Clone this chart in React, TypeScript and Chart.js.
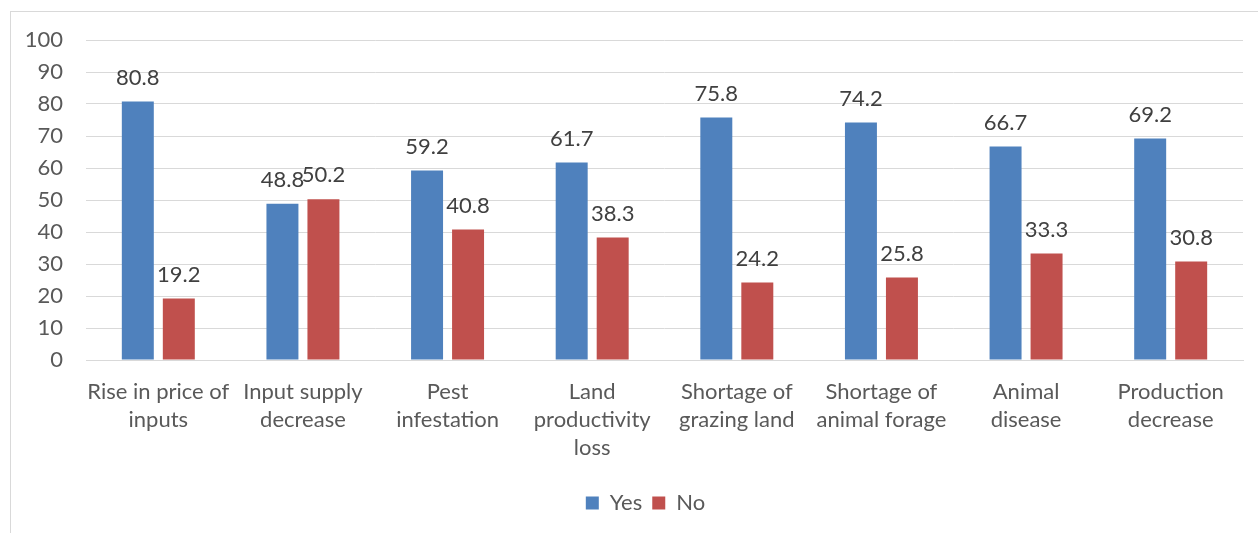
import React, { useEffect, useRef } from "react";
import { Chart, registerables } from "chart.js";

Chart.register(...registerables);

const categories: string[][] = [
  ["Rise in price of", "inputs"],
  ["Input supply", "decrease"],
  ["Pest", "infestation"],
  ["Land", "productivity", "loss"],
  ["Shortage of", "grazing land"],
  ["Shortage of", "animal forage"],
  ["Animal", "disease"],
  ["Production", "decrease"],
];
const yesValues = [80.8, 48.8, 59.2, 61.7, 75.8, 74.2, 66.7, 69.2];
const noValues = [19.2, 50.2, 40.8, 38.3, 24.2, 25.8, 33.3, 30.8];
const seriesNames = ["Yes", "No"];
const yMin = 0;
const yMax = 100;
const yStep = 10;

const FONT = "Lato, 'Open Sans', sans-serif";
const FS = 22;
const BLUE = "#4F81BD";
const RED = "#C0504D";

const valueLabels = {
  id: "valueLabels",
  afterDatasetsDraw(chart: any) {
    const ctx = chart.ctx;
    ctx.save();
    ctx.font = `${FS}px ${FONT}`;
    ctx.fillStyle = "#404040";
    ctx.textAlign = "center";
    ctx.textBaseline = "middle";
    chart.data.datasets.forEach((ds: any, di: number) => {
      const meta = chart.getDatasetMeta(di);
      meta.data.forEach((bar: any, i: number) => {
        ctx.fillText(String(ds.data[i]), bar.x, bar.y - 24);
      });
    });
    ctx.restore();
  },
};

const legendShift = {
  id: "legendShift",
  afterLayout(chart: any) {
    if (chart.legend) {
      chart.legend.left = 48;
    }
  },
};

export default function App() {
  const ref = useRef<HTMLCanvasElement | null>(null);
  useEffect(() => {
    if (!ref.current) return;
    const chart = new Chart(ref.current, {
      type: "bar",
      data: {
        labels: categories,
        datasets: [
          {
            label: seriesNames[0],
            data: yesValues,
            backgroundColor: BLUE,
            categoryPercentage: 0.567,
            barPercentage: 0.78,
          },
          {
            label: seriesNames[1],
            data: noValues,
            backgroundColor: RED,
            categoryPercentage: 0.567,
            barPercentage: 0.78,
          },
        ],
      },
      options: {
        responsive: false,
        animation: false,
        maintainAspectRatio: false,
        layout: { padding: { left: 0, right: 15, top: 40, bottom: 9 } },
        scales: {
          x: {
            grid: { display: false },
            border: { display: true, color: "#d9d9d9", width: 1 },
            ticks: {
              color: "#595959",
              font: { family: FONT, size: FS, lineHeight: 28 / FS },
              padding: 10,
              maxRotation: 0,
              autoSkip: false,
            },
            afterFit(scale: any) {
              scale.height = 122;
            },
          },
          y: {
            min: yMin,
            max: yMax,
            grid: { color: "#d9d9d9", drawTicks: false, lineWidth: 1 },
            border: { display: false },
            ticks: {
              stepSize: yStep,
              color: "#595959",
              font: { family: FONT, size: FS },
              padding: 23,
            },
            afterFit(scale: any) {
              scale.width = 86;
            },
          },
        },
        plugins: {
          legend: {
            position: "bottom",
            labels: {
              color: "#595959",
              font: { family: FONT, size: FS },
              boxWidth: 13,
              boxHeight: 13,
              padding: 10,
            },
          },
          tooltip: { enabled: false },
        },
      },
      plugins: [valueLabels, legendShift],
    } as any);
    return () => chart.destroy();
  }, []);

  return (
    <div style={{ position: "absolute", left: 0, top: 0, width: 1258, height: 533, overflow: "hidden", background: "#fff" }}>
      <div
        style={{
          position: "absolute",
          left: 10,
          top: 11,
          width: 1300,
          height: 600,
          borderLeft: "1px solid #d9d9d9",
          borderTop: "1px solid #d9d9d9",
        }}
      />
      <canvas ref={ref} width={1258} height={533} style={{ position: "absolute", left: 0, top: 0 }} />
    </div>
  );
}
